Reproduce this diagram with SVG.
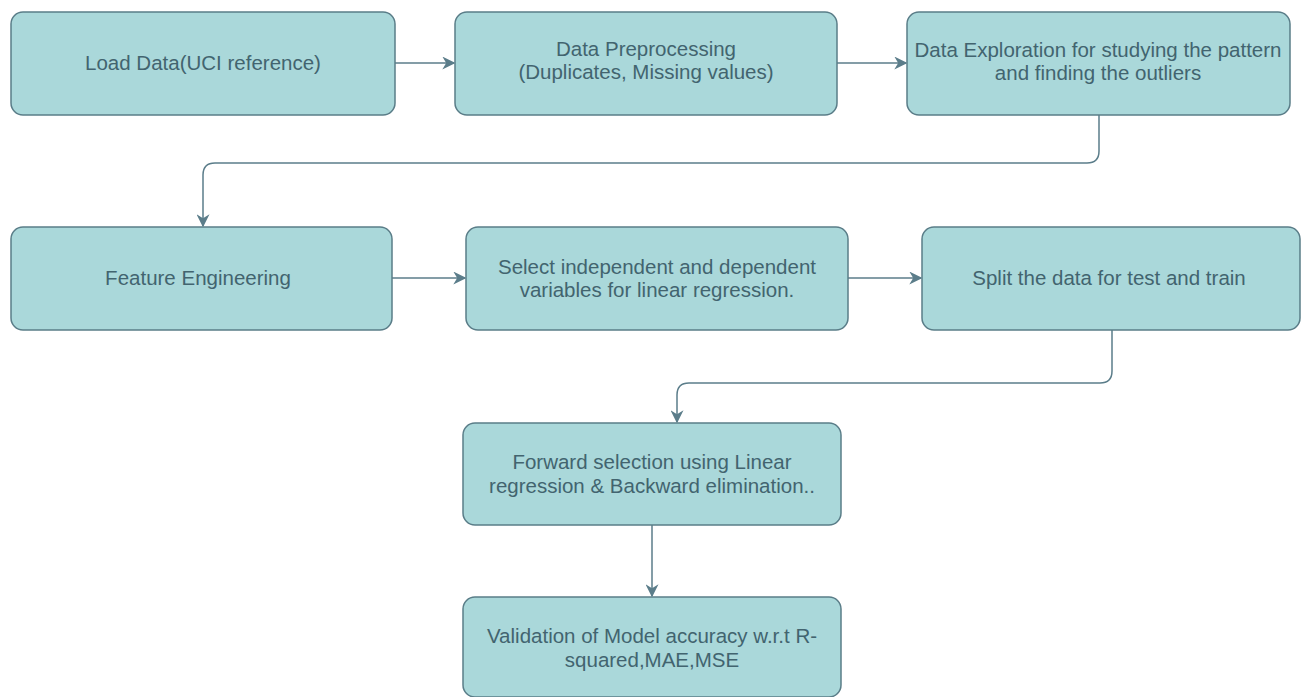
<svg xmlns="http://www.w3.org/2000/svg" width="1301" height="697" viewBox="0 0 1301 697">
<style>
.box{fill:#aad8da;stroke:#5a7d88;stroke-width:1.5}
.t{font-family:"Liberation Sans",Arial,sans-serif;font-size:20.5px;fill:#42646f;text-anchor:middle}
.c{fill:none;stroke:#5b7d8a;stroke-width:1.5}
</style>
<defs>
<marker id="ah" viewBox="0 0 10 10" refX="9" refY="5" markerWidth="13" markerHeight="13" markerUnits="userSpaceOnUse" orient="auto">
<path d="M0,0 L10,5 L0,10 L3,5 Z" fill="#5b7d8a"/>
</marker>
</defs>
<rect width="1301" height="697" fill="#ffffff"/>
<g id="connectors">
<path class="c" d="M395,63 H454" marker-end="url(#ah)"/>
<path class="c" d="M837,63 H906" marker-end="url(#ah)"/>
<path class="c" d="M1099,115 V151 Q1099,163 1087,163 H215 Q203,163 203,175 V226" marker-end="url(#ah)"/>
<path class="c" d="M392,278 H465" marker-end="url(#ah)"/>
<path class="c" d="M848,278 H921" marker-end="url(#ah)"/>
<path class="c" d="M1112,330 V371 Q1112,383 1100,383 H689 Q677,383 677,395 V422" marker-end="url(#ah)"/>
<path class="c" d="M652,525 V596" marker-end="url(#ah)"/>
</g>
<g id="n1"><rect class="box" x="11" y="12" width="384" height="103" rx="12"/><text class="t" x="203" y="70">Load Data(UCI reference)</text></g>
<g id="n2"><rect class="box" x="455" y="12" width="382" height="103" rx="12"/><text class="t" x="646" y="56">Data Preprocessing</text><text class="t" x="646" y="79">(Duplicates, Missing values)</text></g>
<g id="n3"><rect class="box" x="907" y="12" width="383" height="103" rx="12"/><text class="t" x="1098" y="57">Data Exploration for studying the pattern</text><text class="t" x="1098" y="80">and finding the outliers</text></g>
<g id="n4"><rect class="box" x="11" y="227" width="381" height="103" rx="12"/><text class="t" x="198" y="285">Feature Engineering</text></g>
<g id="n5"><rect class="box" x="466" y="227" width="382" height="103" rx="12"/><text class="t" x="657" y="274">Select independent and dependent</text><text class="t" x="657" y="297">variables for linear regression.</text></g>
<g id="n6"><rect class="box" x="922" y="227" width="378" height="103" rx="12"/><text class="t" x="1109" y="285">Split the data for test and train</text></g>
<g id="n7"><rect class="box" x="463" y="423" width="378" height="102" rx="12"/><text class="t" x="652" y="469">Forward selection using Linear</text><text class="t" x="652" y="493">regression &amp; Backward elimination..</text></g>
<g id="n8"><rect class="box" x="463" y="597" width="378" height="100" rx="12"/><text class="t" x="652" y="643">Validation of Model accuracy w.r.t R-</text><text class="t" x="652" y="667">squared,MAE,MSE</text></g>
</svg>
